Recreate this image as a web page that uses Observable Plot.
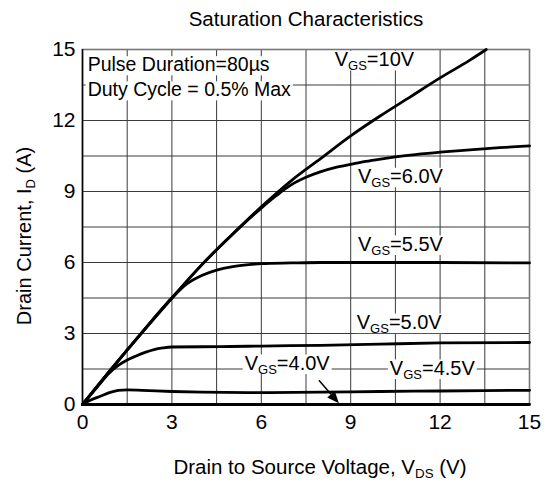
<!DOCTYPE html>
<html><head><meta charset="utf-8">
<script src="https://cdn.jsdelivr.net/npm/d3@7"></script>
<script src="https://cdn.jsdelivr.net/npm/@observablehq/plot@0.6"></script>
<style>
html,body{margin:0;padding:0;background:#fff;}
#chart svg{display:block;}
</style></head><body><div id="chart"></div>
<script>
// ---- data ----
const xTicks = [0, 3, 6, 9, 12, 15];
const yTicks = [0, 3, 6, 9, 12, 15];
const gridSteps = [0, 1.5, 3, 4.5, 6, 7.5, 9, 10.5, 12, 13.5, 15];

const vds_10V = [0, 1, 2, 3, 4, 5, 6, 7, 8, 9, 10, 11, 12, 13, 13.55];
const id_10V  = [0, 1.55, 3.05, 4.5, 5.9, 7.15, 8.35, 9.45, 10.4, 11.35, 12.2, 13.0, 13.8, 14.55, 15];

const vds_6V = [0, 1, 2, 3, 4, 5, 6, 6.5, 7, 7.5, 8, 8.5, 9, 9.5, 10, 10.5, 11, 12, 13, 14, 15];
const id_6V  = [0, 1.55, 3.05, 4.5, 5.9, 7.15, 8.3, 8.82, 9.28, 9.6, 9.84, 10.02, 10.15, 10.27, 10.37, 10.46, 10.54, 10.66, 10.76, 10.85, 10.93];

const vds_5_5V = [0, 1, 2, 3, 3.5, 4, 4.5, 5, 5.5, 6, 7, 8, 10, 12, 15];
const id_5_5V  = [0, 1.55, 3.05, 4.5, 5.1, 5.45, 5.68, 5.82, 5.9, 5.95, 5.98, 6.0, 6.0, 6.0, 5.98];

const vds_5V = [0, 0.5, 0.9, 1.2, 1.5, 1.8, 2.1, 2.4, 2.7, 3, 4, 5, 6, 8, 10, 12, 15];
const id_5V  = [0, 0.75, 1.33, 1.65, 1.88, 2.05, 2.2, 2.32, 2.39, 2.43, 2.44, 2.45, 2.47, 2.5, 2.55, 2.6, 2.62];

const vds_4_5V = [0, 0.3, 0.6, 0.9, 1.2, 1.5, 2, 3, 4, 6, 8, 10, 12, 15];
const id_4_5V  = [0, 0.2, 0.35, 0.5, 0.6, 0.62, 0.6, 0.55, 0.52, 0.5, 0.52, 0.55, 0.57, 0.6];

const vds_4V = [0, 5, 10, 15];
const id_4V  = [0, 0, 0, 0];

const curveNames  = ["10V", "6.0V", "5.5V", "5.0V", "4.5V", "4.0V"];
const curveVds    = [vds_10V, vds_6V, vds_5_5V, vds_5V, vds_4_5V, vds_4V];
const curveId     = [id_10V, id_6V, id_5_5V, id_5V, id_4_5V, id_4V];

// label anchors (data units: left edge, baseline)
const labelNames = ["10V", "6.0V", "5.5V", "5.0V", "4.0V", "4.5V"];
const labelVds   = [8.48, 9.26, 9.26, 9.22, 5.46, 10.33];
const labelId    = [14.28, 9.34, 6.48, 3.18, 1.45, 1.24];

const noteLines  = ["Pulse Duration=80µs", "Duty Cycle = 0.5% Max"];
const noteVds    = [0.19, 0.19];
const noteId     = [14.07, 13.01];

const arrowFrom = [7.95, 1.0];
const arrowTo   = [8.62, 0.03];

const titleText = "Saturation Characteristics";

// ---- build table ----
const rows = curveNames.flatMap((n, k) => curveVds[k].map((v, i) => ({vgs: n, vds: v, id: curveId[k][i]})));

const FONT = "'Liberation Sans', Arial, Helvetica, sans-serif";

const plot = Plot.plot({
  width: 548, height: 482,
  marginLeft: 82, marginRight: 19, marginTop: 49, marginBottom: 78,
  x: {domain: [0, 15]},
  y: {domain: [0, 15]},
  style: {fontFamily: FONT, fontSize: "21px", color: "#000", background: "#fff", overflow: "visible"},
  marks: [
    Plot.gridX({ticks: gridSteps, stroke: "#3a3a3a", strokeOpacity: 1, strokeWidth: 1}),
    Plot.gridY({ticks: gridSteps, stroke: "#3a3a3a", strokeOpacity: 1, strokeWidth: 1}),
    Plot.frame({stroke: "#777", strokeWidth: 1.6}),
    Plot.ruleX([0], {stroke: "#000", strokeWidth: 1.5}),
    Plot.line(rows, {x: "vds", y: "id", z: "vgs", stroke: "#000", strokeWidth: 2.8, curve: "monotone-x"}),
    Plot.axisX({ticks: xTicks, tickSize: 0, tickPadding: 10, fontSize: 21, label: null}),
    Plot.axisY({ticks: yTicks, tickSize: 0, tickPadding: 7, fontSize: 21, label: null})
  ]
});
document.getElementById("chart").append(plot);

const svg = d3.select(plot);
const sx = plot.scale("x"), sy = plot.scale("y");
const X = v => sx.apply(v), Y = v => sy.apply(v);

const annot = svg.insert("g", "g[aria-label=line]");

function addText(g, x, y, parts, fs, opts = {}) {
  const t = g.append("text").attr("x", x).attr("y", y)
    .attr("font-size", fs).attr("font-family", FONT).attr("fill", "#000")
    .attr("text-anchor", opts.anchor || "start");
  if (opts.rotate) t.attr("transform", `rotate(${opts.rotate},${x},${y})`);
  let shift = 0;
  parts.forEach(p => {
    const ts = t.append("tspan").text(p.t);
    if (p.sub) { const d = fs * 0.2; ts.attr("font-size", fs * 0.65).attr("dy", d); shift = d; }
    else if (shift) { ts.attr("dy", -shift); shift = 0; }
  });
  return t;
}
function boxed(g, x, y, parts, fs) {
  const box = g.append("rect").attr("fill", "#fff");
  const t = addText(g, x, y, parts, fs);
  const w = t.node().getComputedTextLength();
  box.attr("x", x - 2).attr("y", y - fs * 0.76).attr("width", w + 4).attr("height", fs * 0.76 + fs * 0.22);
}

// curve labels
labelNames.forEach((n, i) => {
  boxed(annot, X(labelVds[i]), Y(labelId[i]), [{t: "V"}, {t: "GS", sub: true}, {t: "=" + n}], 20);
});
// note
noteLines.forEach((s, i) => boxed(annot, X(noteVds[i]), Y(noteId[i]), [{t: s}], 19.5));

// arrow, title and axis labels (on top)
const overlay = svg.append("g");
{
  const x1 = X(arrowFrom[0]), y1 = Y(arrowFrom[1]), x2 = X(arrowTo[0]), y2 = Y(arrowTo[1]);
  const dx = x2 - x1, dy = y2 - y1, L = Math.hypot(dx, dy), ux = dx / L, uy = dy / L;
  const hl = 12, hw = 5;
  const bx = x2 - ux * hl, by = y2 - uy * hl;
  overlay.append("line").attr("x1", x1).attr("y1", y1).attr("x2", bx).attr("y2", by)
    .attr("stroke", "#000").attr("stroke-width", 1.5);
  overlay.append("path").attr("d", `M${x2},${y2}L${bx - uy * hw},${by + ux * hw}L${bx + uy * hw},${by - ux * hw}Z`)
    .attr("fill", "#000");
}

addText(overlay, 306, 26, [{t: titleText}], 20.5, {anchor: "middle"});
addText(overlay, 320, 474, [{t: "Drain to Source Voltage, V"}, {t: "DS", sub: true}, {t: " (V)"}], 20.5, {anchor: "middle"});
addText(overlay, 31, 236, [{t: "Drain Current, I"}, {t: "D", sub: true}, {t: " (A)"}], 20, {anchor: "middle", rotate: -90});
</script>
</body></html>
